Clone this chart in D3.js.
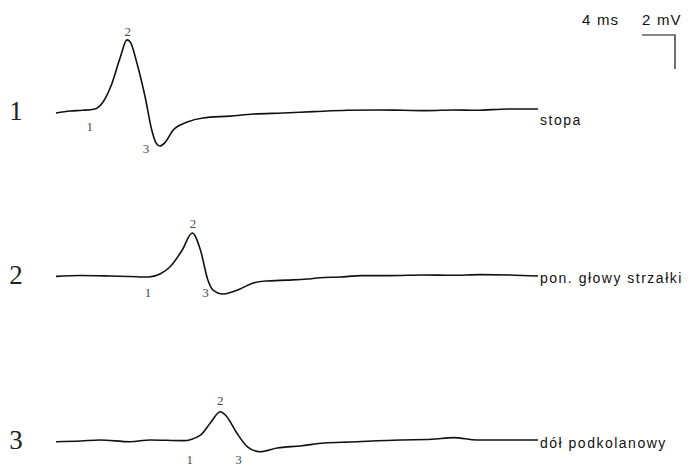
<!DOCTYPE html>
<html>
<head>
<meta charset="utf-8">
<script src="https://cdn.jsdelivr.net/npm/d3@7"></script>
<style>
  body { margin: 0; background: #fff; }
  svg { display: block; }
</style>
</head>
<body>
<svg id="canvas"></svg>
<script>
const width = 696;
const height = 467;

// Time of each sample (ms) and amplitude (mV, relative to baseline)
const time1 = [0, 1.7, 3.2, 4.7, 5.7, 6.8, 7.8, 8.6, 9.0, 9.8, 10.8, 11.6, 12.1, 12.6, 13.2, 14.2, 15.9, 17.8, 21.1, 23.9, 27.5, 31.2, 35.3, 39, 42.1, 45, 48.1, 51, 54.7, 58.4];
const volt1 = [-0.06, 0.06, 0.1, 0.18, 0.59, 1.71, 3.24, 4.24, 4.12, 2.88, 0.88, -1.06, -1.8, -2.0, -1.8, -1.06, -0.59, -0.35, -0.24, -0.12, -0.06, 0.02, 0.1, 0.12, 0.1, 0.08, 0.12, 0.1, 0.18, 0.18];

const time2 = [0, 2.9, 6.6, 9.0, 11.2, 12.6, 13.8, 15.3, 16.5, 17.5, 18.4, 19.0, 20.2, 21.3, 22.3, 23.9, 25.6, 28, 30.4, 32, 34.4, 37, 40.5, 44.5, 48, 51.4, 55, 58.4];
const volt2 = [-0.02, 0.03, 0.0, -0.03, -0.06, 0.12, 0.53, 1.53, 2.53, 1.53, -0.24, -0.82, -1.06, -0.94, -0.76, -0.41, -0.29, -0.24, -0.18, -0.1, -0.06, 0.02, 0.02, 0.06, 0.04, 0.08, 0.06, 0.0];

const time3 = [0, 3, 5.3, 9.0, 11.4, 15.4, 17.5, 18.7, 19.9, 20.7, 21.9, 23.2, 24.7, 26.8, 29.6, 32.5, 35.6, 41.7, 45.5, 48.2, 51, 53.8, 58.4];
const volt3 = [-0.04, 0.0, 0.06, -0.04, 0.06, 0.02, 0.35, 1.06, 1.72, 1.43, 0.47, -0.34, -0.63, -0.41, -0.29, -0.12, -0.06, 0.06, 0.1, 0.2, 0.06, 0.06, 0.06];

const traceNumbers = ['1', '2', '3'];
const siteNames = ['stopa', 'pon. głowy strzałki', 'dół podkolanowy'];

// Latency markers: point label and time (ms) per trace
const markerLabels = ['1', '2', '3'];
const markerTimes = [
  [4.1, 8.7, 10.9],
  [11.15, 16.6, 18.1],
  [16.2, 19.9, 22.1]
];

const scaleBarMs = 4;
const scaleBarMv = 2;

const traces = [
  { t: time1, v: volt1, base: 112 },
  { t: time2, v: volt2, base: 276 },
  { t: time3, v: volt3, base: 441 }
];

const x = d3.scaleLinear().domain([0, 58.4]).range([56, 538]);
const pxPerMv = 17;

const svg = d3.select('#canvas').attr('width', width).attr('height', height);

const line = d3.line()
  .x((d) => x(d[0]))
  .y((d) => d[1])
  .curve(d3.curveMonotoneX);

// vertical offsets (px) of the small point numbers from each baseline
const labelDy = [
  [19, -76, 41],
  [21, -48, 21],
  [23, -36, 23]
];

traces.forEach((tr, i) => {
  const y = d3.scaleLinear().domain([0, 1]).range([tr.base, tr.base - pxPerMv]);
  const pts = tr.t.map((t, j) => [t, y(tr.v[j])]);

  svg.append('path')
    .attr('d', line(pts))
    .attr('fill', 'none')
    .attr('stroke', '#111')
    .attr('stroke-width', 1.6)
    .attr('stroke-linejoin', 'round');

  svg.append('text')
    .attr('x', 16)
    .attr('y', tr.base + 8)
    .attr('text-anchor', 'middle')
    .style('font-family', '"Liberation Serif", serif')
    .style('font-size', '27px')
    .style('fill', '#222')
    .text(traceNumbers[i]);

  svg.append('text')
    .attr('x', 540)
    .attr('y', tr.base + (i === 0 ? 13 : 7))
    .style('font-family', '"Liberation Sans", Arial, sans-serif')
    .style('font-size', '14px')
    .style('letter-spacing', '1.5px')
    .style('fill', '#111')
    .text(siteNames[i]);

  markerTimes[i].forEach((mt, k) => {
    svg.append('text')
      .attr('x', x(mt))
      .attr('y', tr.base + labelDy[i][k])
      .attr('text-anchor', 'middle')
      .style('font-family', '"Liberation Serif", serif')
      .style('font-size', '13px')
      .style('fill', '#4a4a4a')
      .text(markerLabels[k]);
  });
});

// scale bar
const barX0 = x(71.0);
const barX1 = x(71.0 + scaleBarMs);
const barY0 = 35;
const barY1 = barY0 + scaleBarMv * pxPerMv;

svg.append('path')
  .attr('d', `M${barX0},${barY0}H${barX1}V${barY1}`)
  .attr('fill', 'none')
  .attr('stroke', '#111')
  .attr('stroke-width', 1.2);

svg.append('text')
  .attr('x', 582)
  .attr('y', 25)
  .style('font-family', '"Liberation Sans", Arial, sans-serif')
  .style('font-size', '15px')
  .style('letter-spacing', '1.2px')
  .style('fill', '#111')
  .text(`${scaleBarMs} ms`);

svg.append('text')
  .attr('x', 642)
  .attr('y', 25)
  .style('font-family', '"Liberation Sans", Arial, sans-serif')
  .style('font-size', '15px')
  .style('letter-spacing', '1.2px')
  .style('fill', '#111')
  .text(`${scaleBarMv} mV`);
</script>
</body>
</html>
